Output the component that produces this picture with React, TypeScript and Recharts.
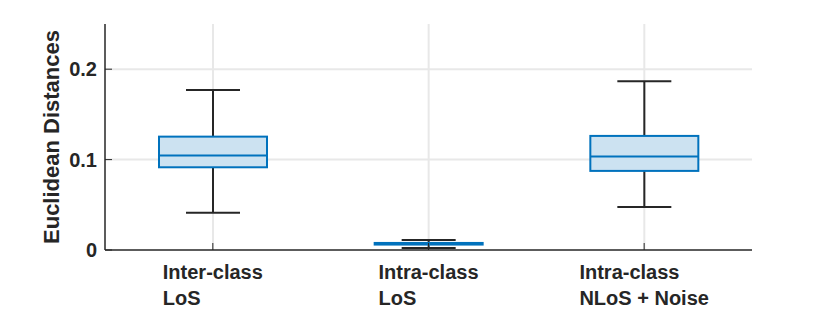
import { ComposedChart, Bar, XAxis, YAxis, CartesianGrid, Label } from 'recharts';

// box plot statistics
const categories = ['Inter-class\nLoS', 'Intra-class\nLoS', 'Intra-class\nNLoS + Noise'];
const whiskerLow = [0.0413, 0.0022, 0.0476];
const quartile1 = [0.0915, 0.006, 0.0875];
const medians = [0.1044, 0.0068, 0.1033];
const quartile3 = [0.1254, 0.0078, 0.1262];
const whiskerHigh = [0.1771, 0.0111, 0.1868];
const yTicks = [0, 0.1, 0.2];
const gridValues = [0.1, 0.2];

const FONT = '"Liberation Sans", Arial, Helvetica, sans-serif';
const INK = '#262626';
const BLUE = '#0072bd';
const BOX_FILL = '#cce2f1';
const GRID = '#e8e8e8';

const data = categories.map((name, i) => ({
  name,
  low: whiskerLow[i],
  q1: quartile1[i],
  median: medians[i],
  q3: quartile3[i],
  high: whiskerHigh[i],
  range: [whiskerLow[i], whiskerHigh[i]],
}));

const measureCtx =
  typeof document !== 'undefined' ? document.createElement('canvas').getContext('2d') : null;

function textWidth(s: string, font: string) {
  if (!measureCtx) return s.length * 10;
  measureCtx.font = font;
  return measureCtx.measureText(s).width;
}

function BoxShape(props: any) {
  const { x, y, width, height, payload, background } = props;
  const top = Math.min(y, y + height);
  const span = Math.abs(height);
  const { low, q1, median, q3, high } = payload;
  const toY = (v: number) => top + (span * (high - v)) / (high - low);
  const cx = x + width / 2;
  const capW = width * 0.5;
  const yQ3 = toY(q3);
  const yQ1 = toY(q1);
  return (
    <g>
      {/* vertical grid line through the band centre, behind the box */}
      {background && (
        <line
          x1={cx}
          x2={cx}
          y1={background.y}
          y2={background.y + background.height}
          stroke={GRID}
          strokeWidth={2}
        />
      )}
      <line x1={cx} x2={cx} y1={toY(high)} y2={toY(low)} stroke={INK} strokeWidth={2} />
      <line x1={cx - capW / 2} x2={cx + capW / 2} y1={toY(high)} y2={toY(high)} stroke={INK} strokeWidth={2} />
      <line x1={cx - capW / 2} x2={cx + capW / 2} y1={toY(low)} y2={toY(low)} stroke={INK} strokeWidth={2} />
      <rect x={x} y={yQ3} width={width} height={Math.max(yQ1 - yQ3, 0.5)} fill={BOX_FILL} stroke={BLUE} strokeWidth={2} />
      <line x1={x} x2={x + width} y1={toY(median)} y2={toY(median)} stroke={BLUE} strokeWidth={2} />
    </g>
  );
}

function XTick(props: any) {
  const { x, y, payload } = props;
  const lines = String(payload.value).split('\n');
  const font = `bold 20px ${FONT}`;
  const w = Math.max(...lines.map((l) => textWidth(l, font)));
  const left = x - w / 2;
  return (
    <g>
      <line x1={x} x2={x} y1={250} y2={243} stroke={INK} strokeWidth={1} />
      <text x={left} y={y} fill={INK} fontFamily={FONT} fontWeight="bold" fontSize={20} textAnchor="start">
        {lines.map((l, i) => (
          <tspan key={i} x={left} dy={i === 0 ? 29 : 26}>
            {l}
          </tspan>
        ))}
      </text>
    </g>
  );
}

function YTick(props: any) {
  const { x, y, payload } = props;
  return (
    <g>
      <line x1={105} x2={112} y1={y} y2={y} stroke={INK} strokeWidth={1} />
      <text x={x} y={y} dy={7} fill={INK} fontFamily={FONT} fontWeight="bold" fontSize={20} textAnchor="end">
        {payload.value === 0 ? '0' : payload.value.toFixed(1)}
      </text>
    </g>
  );
}

export default function App() {
  return (
    <div style={{ position: 'absolute', left: 0, top: 0, background: '#fff' }}>
      <ComposedChart
        width={830}
        height={319}
        data={data}
        margin={{ top: 24, right: 78, left: 0, bottom: 0 }}
      >
        <CartesianGrid stroke={GRID} strokeWidth={2} vertical={false} horizontalValues={gridValues} />
        <XAxis
          dataKey="name"
          interval={0}
          height={69}
          tickSize={0}
          tickMargin={0}
          tick={<XTick />}
          axisLine={{ stroke: INK, strokeWidth: 1.5 }}
        />
        <YAxis
          type="number"
          domain={[0, 0.25]}
          ticks={yTicks}
          width={105}
          tickSize={0}
          tickMargin={8}
          tick={<YTick />}
          axisLine={{ stroke: INK, strokeWidth: 1.5 }}
        >
          <Label
            content={() => (
              <text
                x={59}
                y={137}
                transform="rotate(-90, 59, 137)"
                textAnchor="middle"
                fill={INK}
                fontFamily={FONT}
                fontWeight="bold"
                fontSize={22}
              >
                Euclidean Distances
              </text>
            )}
          />
        </YAxis>
        <Bar dataKey="range" barSize={108} shape={<BoxShape />} isAnimationActive={false} />
      </ComposedChart>
    </div>
  );
}
